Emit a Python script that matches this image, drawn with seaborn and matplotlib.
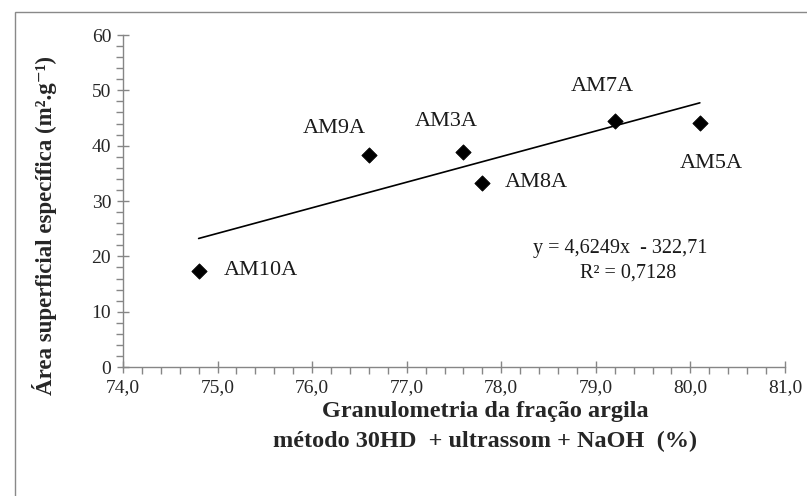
import matplotlib
matplotlib.use('Agg')

import matplotlib.pyplot as plt
import numpy as np
import pandas as pd
import seaborn as sns
from matplotlib.patches import Rectangle
from matplotlib.ticker import MultipleLocator

# data
samples = ['AM10A', 'AM9A', 'AM3A', 'AM8A', 'AM7A', 'AM5A']
clay_pct = [74.8, 76.6, 77.6, 77.8, 79.2, 80.1]
ssa = [17.4, 38.3, 38.8, 33.3, 44.4, 44.1]

# trendline as printed on the chart
slope = 4.6249
intercept = -322.71
r2 = 0.7128

x_ticks = [74, 75, 76, 77, 78, 79, 80, 81]
y_ticks = [0, 10, 20, 30, 40, 50, 60]

df = pd.DataFrame({'sample': samples, 'x': clay_pct, 'y': ssa})

sns.set_style('white')
plt.rcParams['font.family'] = ['Liberation Serif', 'DejaVu Serif']

fig = plt.figure(figsize=(8.07, 4.96), dpi=100)
ax = fig.add_axes([0.1524, 0.26, 0.8203, 0.6694])

# chart area border (only top and left edges fall inside the image)
fig.patches.append(Rectangle((15 / 807, -0.1), 1.0, 1.1 - 12 / 496,
                             transform=fig.transFigure, fill=False,
                             edgecolor='#898989', linewidth=1.0))

# trendline over the data range
x_line = np.array([min(clay_pct), max(clay_pct)])
trend = pd.DataFrame({'x': x_line, 'y': slope * x_line + intercept})
sns.lineplot(data=trend, x='x', y='y', ax=ax, color='black', linewidth=1.2)

sns.scatterplot(data=df, x='x', y='y', ax=ax, marker='D', s=60,
                color='black', edgecolor='black', zorder=3)

# label offsets in points (dx, dy, ha)
offsets = {
    'AM10A': (18, 0, 'left'),
    'AM9A': (-25, 19, 'center'),
    'AM3A': (-12, 22, 'center'),
    'AM8A': (16, 0, 'left'),
    'AM7A': (-9, 25, 'center'),
    'AM5A': (8, -29, 'center'),
}
for name, xv, yv in zip(samples, clay_pct, ssa):
    dx, dy, ha = offsets[name]
    ax.annotate(name, (xv, yv), xytext=(dx, dy), textcoords='offset points',
                ha=ha, va='center', fontsize=16, color='#1a1a1a')

ax.set_xlim(74, 81)
ax.set_ylim(0, 60)
ax.set_xticks(x_ticks)
ax.set_xticklabels([f'{v:.1f}'.replace('.', ',') for v in x_ticks])
ax.set_yticks(y_ticks)
ax.set_yticklabels([str(v) for v in y_ticks])
ax.xaxis.set_minor_locator(MultipleLocator(0.2))
ax.yaxis.set_minor_locator(MultipleLocator(2))

for side in ['top', 'right']:
    ax.spines[side].set_visible(False)
for side in ['left', 'bottom']:
    ax.spines[side].set_color('#868686')
    ax.spines[side].set_linewidth(1.0)

ax.tick_params(axis='both', which='both', bottom=True, left=True)
ax.tick_params(axis='both', which='major', direction='inout', length=9,
               width=1.0, color='#868686', labelsize=14, labelcolor='#262626')
ax.tick_params(axis='both', which='minor', direction='out', length=5,
               width=1.0, color='#868686')
ax.tick_params(axis='y', which='major', pad=4)
ax.tick_params(axis='x', which='major', pad=4)

ax.set_xlabel('')
ax.set_ylabel('')

fig.text(485 / 807, 1 - 411 / 496, 'Granulometria da fração argila',
         ha='center', va='center', fontsize=17.5, fontweight='bold')
fig.text(485 / 807, 1 - 441 / 496, 'método 30HD  + ultrassom + NaOH  (%)',
         ha='center', va='center', fontsize=17.5, fontweight='bold')
fig.text(45 / 807, 1 - 226 / 496, 'Área superficial específica (m².g⁻¹)',
         ha='center', va='center', rotation=90, fontsize=16.5, fontweight='bold')

# regression equation
fig.text(620 / 807, 1 - 248 / 496,
         f'y = {slope:.4f}x  - {abs(intercept):.2f}'.replace('.', ','),
         ha='center', va='center', fontsize=14.5, color='#1a1a1a')
fig.text(628 / 807, 1 - 273 / 496, f'R² = {r2:.4f}'.replace('.', ','),
         ha='center', va='center', fontsize=14.5, color='#1a1a1a')

fig.savefig('out.png', dpi=100)
